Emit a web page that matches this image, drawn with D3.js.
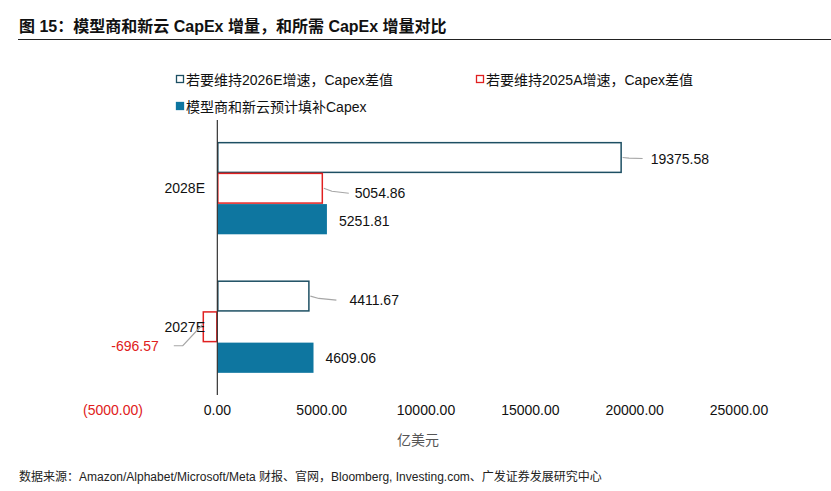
<!DOCTYPE html>
<html>
<head>
<meta charset="utf-8">
<script src="https://cdn.jsdelivr.net/npm/d3@7"></script>
<style>
  body { margin: 0; background: #fff; }
  svg text { font-family: "Liberation Sans", Arial, "Noto Sans CJK SC", sans-serif; }
  .narrow { font-family: "Liberation Sans Narrow", "Liberation Sans", "Noto Sans CJK SC", sans-serif; }
</style>
</head>
<body>
<svg id="chart" width="831" height="491"></svg>
<script>
// categories (top to bottom) and series
const categories = ['2028E', '2027E'];
const seriesNames = ['若要维持2026E增速，Capex差值', '若要维持2025A增速，Capex差值', '模型商和新云预计填补Capex'];
const keep2026E = [19375.58, 4411.67];
const keep2025A = [5054.86, -696.57];
const fillCapex = [5251.81, 4609.06];
const xTicks = [-5000, 0, 5000, 10000, 15000, 20000, 25000];

// label placement per series/category: [leader?, line dx, label dx, label dy]
const labelPos = [
    [[true, 21, 29, 1], [true, 27, 40, 4]],
    [[true, 26, 32, 5], [true, -29, -44, 19]],
    [[false, 0, 12, 2], [false, 0, 12, 1]]
];

const seriesValues = [keep2026E, keep2025A, fillCapex];
const colors = {dark: '#1d4f63', red: '#e02020', blue: '#0e76a0'};

const svg = d3.select('#chart');

// title
svg.append('text')
    .attr('class', 'narrow')
    .attr('x', 19)
    .attr('y', 32)
    .attr('font-size', '16px')
    .attr('font-weight', 'bold')
    .style('fill', '#111')
    .text('图 15：模型商和新云 CapEx 增量，和所需 CapEx 增量对比');
svg.append('line')
    .attr('x1', 18).attr('x2', 831)
    .attr('y1', 39.5).attr('y2', 39.5)
    .style('stroke', '#222').style('stroke-width', 1.2);

// scales
const x = d3.scaleLinear().domain([-5000, 25000]).range([113, 739]);
const y0 = d3.scaleBand().domain(categories).range([120, 395]).paddingInner(0.335).paddingOuter(0.16);
const y1 = d3.scaleBand().domain(d3.range(seriesNames.length)).range([0, y0.bandwidth()]);

// legend
const legend = [
    {i: 0, x: 176, y: 80},
    {i: 1, x: 476, y: 80},
    {i: 2, x: 176, y: 107}
];
legend.forEach(d => {
    const g = svg.append('g').attr('transform', `translate(${d.x},${d.y})`);
    g.append('rect')
        .attr('x', 0.5).attr('y', -4.5)
        .attr('width', 7).attr('height', 7)
        .style('fill', d.i === 2 ? colors.blue : '#fff')
        .style('stroke', d.i === 0 ? colors.dark : d.i === 1 ? colors.red : colors.blue)
        .style('stroke-width', 1.3);
    g.append('text')
        .attr('x', 10).attr('y', 5)
        .attr('font-size', '14px')
        .style('fill', '#111')
        .text(seriesNames[d.i]);
});

// bars
seriesValues.forEach((vals, s) => {
    categories.forEach((c, ci) => {
        const v = vals[ci];
        const top = y0(c) + y1(s);
        const h = y1.bandwidth();
        svg.append('rect')
            .attr('x', x(Math.min(0, v)) + (s === 2 ? 0 : 0.5))
            .attr('y', top + (s === 2 ? 0.5 : 0.5))
            .attr('width', Math.abs(x(v) - x(0)) - (s === 2 ? 0 : 1))
            .attr('height', h - (s === 2 ? 0.5 : 1))
            .style('fill', s === 2 ? colors.blue : '#fff')
            .style('stroke', s === 0 ? colors.dark : s === 1 ? colors.red : 'none')
            .style('stroke-width', 1.5);
    });
});

// zero axis
svg.append('line')
    .attr('x1', x(0)).attr('x2', x(0))
    .attr('y1', 120).attr('y2', 395)
    .style('stroke', '#333').style('stroke-width', 1.2);

// category labels
categories.forEach(c => {
    svg.append('text')
        .attr('x', 205)
        .attr('y', y0(c) + y0.bandwidth() / 2 + 5)
        .attr('text-anchor', 'end')
        .attr('font-size', '14px')
        .style('fill', '#111')
        .text(c);
});

// value labels with leader lines
seriesValues.forEach((vals, s) => {
    categories.forEach((c, ci) => {
        const v = vals[ci];
        const p = labelPos[s][ci];
        const cy = y0(c) + y1(s) + y1.bandwidth() / 2;
        const ex = x(v);
        const neg = v < 0;
        if (p[0]) {
            let pts;
            if (neg) {
                pts = [[x(0) - 15, cy - 2], [ex + p[1] + 9, cy + p[3]], [ex + p[1], cy + p[3]]];
            } else {
                pts = [[ex + 1, cy], [ex + p[1] * 0.35, cy + p[3] * 0.6], [ex + p[1], cy + p[3]]];
            }
            svg.append('path')
                .attr('d', d3.line()(pts))
                .style('fill', 'none')
                .style('stroke', '#a6a6a6')
                .style('stroke-width', 1.2);
        }
        svg.append('text')
            .attr('x', ex + p[2])
            .attr('y', cy + p[3] + 5)
            .attr('text-anchor', neg ? 'end' : 'start')
            .attr('font-size', '14px')
            .style('fill', neg ? colors.red : '#111')
            .text(v.toFixed(2));
    });
});

// x tick labels
const fmt = d => d < 0 ? '(' + Math.abs(d).toFixed(2) + ')' : d.toFixed(2);
svg.append('g')
    .selectAll('text')
    .data(xTicks)
    .join('text')
    .attr('x', d => x(d))
    .attr('y', 415)
    .attr('text-anchor', 'middle')
    .attr('font-size', '14px')
    .style('fill', d => d < 0 ? colors.red : '#111')
    .text(fmt);

// unit
svg.append('text')
    .attr('x', 418)
    .attr('y', 445)
    .attr('text-anchor', 'middle')
    .attr('font-size', '14px')
    .style('fill', '#555')
    .text('亿美元');

// source
svg.append('text')
    .attr('class', 'narrow')
    .attr('x', 19)
    .attr('y', 481)
    .attr('font-size', '12px')
    .style('fill', '#222')
    .text('数据来源：Amazon/Alphabet/Microsoft/Meta 财报、官网，Bloomberg, Investing.com、广发证券发展研究中心');
</script>
</body>
</html>
